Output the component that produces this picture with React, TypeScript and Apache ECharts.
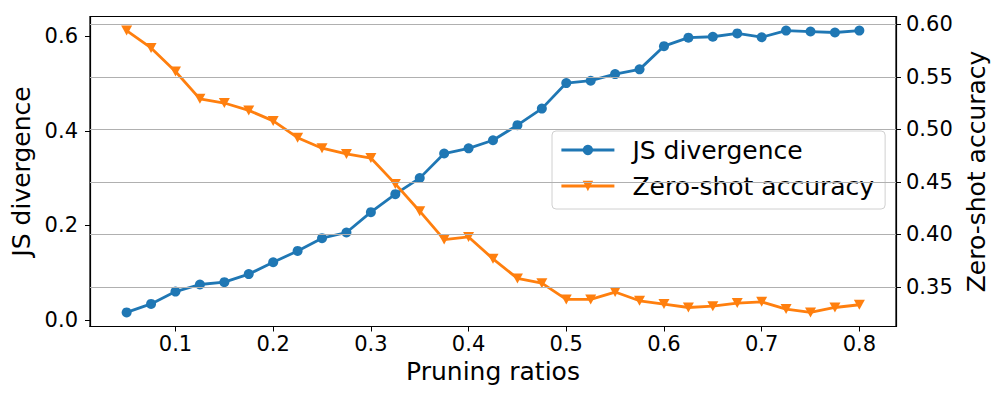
import React, { useEffect, useRef } from "react";
import * as echarts from "echarts";

const ratios = [
  0.05, 0.075, 0.1, 0.125, 0.15, 0.175, 0.2, 0.225, 0.25, 0.275, 0.3, 0.325, 0.35, 0.375, 0.4, 0.425,
  0.45, 0.475, 0.5, 0.525, 0.55, 0.575, 0.6, 0.625, 0.65, 0.675, 0.7, 0.725, 0.75, 0.775, 0.8,
];
const jsDivergence = [
  0.016, 0.034, 0.06, 0.075, 0.08, 0.097, 0.122, 0.146, 0.173, 0.185, 0.228, 0.266, 0.3, 0.352, 0.363, 0.38,
  0.412, 0.447, 0.501, 0.506, 0.52, 0.53, 0.579, 0.597, 0.599, 0.606, 0.598, 0.612, 0.61, 0.608, 0.612,
];
const zeroShotAcc = [
  0.594, 0.5775, 0.555, 0.529, 0.525, 0.518, 0.508, 0.492, 0.482, 0.4765, 0.4726, 0.448, 0.422, 0.395, 0.3975, 0.3766,
  0.358, 0.3535, 0.338, 0.338, 0.345, 0.3367, 0.3336, 0.3303, 0.3316, 0.3345, 0.3357, 0.3288, 0.3256, 0.3303, 0.3329,
];
const xTicks = [0.1, 0.2, 0.3, 0.4, 0.5, 0.6, 0.7, 0.8];
const leftTicks = [0.0, 0.2, 0.4, 0.6];
const rightTicks = [0.35, 0.4, 0.45, 0.5, 0.55, 0.6];

const FONT = "DejaVu Sans";

export default function App() {
  const ref = useRef<HTMLDivElement>(null);
  useEffect(() => {
    const chart = echarts.init(ref.current!, null, { renderer: "svg" });
    const tickLabel = { color: "#000", fontFamily: FONT, fontSize: 21 };
    chart.setOption({
      animation: false,
      backgroundColor: "#fff",
      grid: {
        left: 90,
        right: 104,
        top: 16.5,
        bottom: 73.5,
        show: true,
        borderColor: "#000",
        borderWidth: 1.2,
        backgroundColor: "transparent",
      },
      legend: {
        orient: "vertical",
        left: 552,
        top: 131,
        padding: [4, 11, 8, 8],
        itemWidth: 53,
        itemHeight: 13,
        itemGap: 6,
        backgroundColor: "rgba(255,255,255,0.8)",
        borderColor: "#d0d0d0",
        borderWidth: 1,
        borderRadius: 4,
        lineStyle: { width: 2.8 },
        textStyle: {
          color: "#000",
          fontFamily: FONT,
          fontSize: 25,
          lineHeight: 30,
          padding: [0, 0, 0, 13],
        },
        data: ["JS divergence", "Zero-shot accuracy"],
      },
      xAxis: {
        type: "value",
        min: 0.0125,
        max: 0.8375,
        name: "Pruning ratios",
        nameLocation: "middle",
        nameGap: 31,
        nameTextStyle: { color: "#000", fontFamily: FONT, fontSize: 25 },
        axisLine: { show: true, onZero: false, lineStyle: { color: "#000", width: 1.2 } },
        axisTick: { show: true, length: 5, customValues: xTicks, lineStyle: { color: "#000", width: 1 } },
        axisLabel: {
          ...tickLabel,
          margin: 7,
          customValues: xTicks,
          formatter: (v: number) => v.toFixed(1),
        },
        splitLine: { show: false },
      },
      yAxis: [
        {
          type: "value",
          position: "left",
          min: -0.0138,
          max: 0.6418,
          name: "JS divergence",
          nameLocation: "middle",
          nameRotate: 90,
          nameGap: 50,
          nameTextStyle: { color: "#000", fontFamily: FONT, fontSize: 25 },
          axisLine: { show: true, lineStyle: { color: "#000", width: 1.2 } },
          axisTick: { show: true, length: 5, customValues: leftTicks, lineStyle: { color: "#000", width: 1 } },
          axisLabel: {
            ...tickLabel,
            margin: 12,
            customValues: leftTicks,
            formatter: (v: number) => v.toFixed(1),
          },
          splitLine: { show: false },
        },
        {
          type: "value",
          position: "right",
          min: 0.3122,
          max: 0.6074,
          name: "Zero-shot accuracy",
          nameLocation: "middle",
          nameRotate: 90,
          nameGap: 64,
          nameTextStyle: { color: "#000", fontFamily: FONT, fontSize: 25 },
          axisLine: { show: true, lineStyle: { color: "#000", width: 1.2 } },
          axisTick: { show: true, length: 5, customValues: rightTicks, lineStyle: { color: "#000", width: 1 } },
          axisLabel: {
            ...tickLabel,
            margin: 10,
            customValues: rightTicks,
            formatter: (v: number) => v.toFixed(2),
          },
          splitLine: { show: false },
        },
      ],
      series: [
        {
          name: "JS divergence",
          type: "line",
          yAxisIndex: 0,
          data: ratios.map((r, i) => [r, jsDivergence[i]]),
          color: "#1f77b4",
          symbol: "circle",
          symbolSize: 10,
          showAllSymbol: true,
          lineStyle: { width: 2.8, color: "#1f77b4" },
          itemStyle: { color: "#1f77b4" },
        },
        {
          name: "Zero-shot accuracy",
          type: "line",
          yAxisIndex: 1,
          data: ratios.map((r, i) => [r, zeroShotAcc[i]]),
          color: "#ff7f0e",
          symbol: "triangle",
          symbolRotate: 180,
          symbolSize: [11, 10],
          showAllSymbol: true,
          lineStyle: { width: 2.8, color: "#ff7f0e" },
          itemStyle: { color: "#ff7f0e" },
          markLine: {
            silent: true,
            symbol: "none",
            label: { show: false },
            lineStyle: { color: "#b0b0b0", width: 1.1, type: "solid" },
            data: rightTicks.map((v) => ({ yAxis: v })),
          },
        },
      ],
    });
    return () => chart.dispose();
  }, []);
  return (
    <div
      ref={ref}
      style={{ position: "fixed", left: 0, top: 0, width: 1000, height: 400 }}
    />
  );
}
